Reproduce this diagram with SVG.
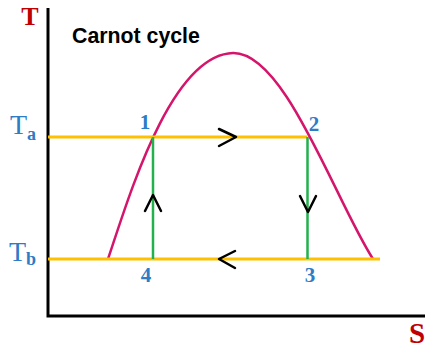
<svg xmlns="http://www.w3.org/2000/svg" width="425" height="349" viewBox="0 0 425 349">
<style>
.axis{stroke:#000;stroke-width:3;fill:none}
.iso{stroke:#ffc000;stroke-width:3;fill:none}
.adi{stroke:#22b14c;stroke-width:2.5;fill:none}
.dome{stroke:#d5156b;stroke-width:2.5;fill:none}
.chev{stroke:#000;stroke-width:2.5;fill:none;stroke-linecap:round;stroke-linejoin:round}
.ax{font-family:"Liberation Serif",serif;font-weight:bold;fill:#c00000}
.tl{font-family:"Liberation Serif",serif;fill:#2e7bc6}
.num{font-family:"Liberation Serif",serif;font-weight:bold;font-size:21px;fill:#2e7bc6;text-anchor:middle}
</style>
<rect width="425" height="349" fill="#fff"/>
<g id="axes">
<path class="axis" d="M48,8 V316 H425"/>
<text class="ax" x="30" y="25" font-size="26" text-anchor="middle">T</text>
<text class="ax" x="417" y="343" font-size="29" text-anchor="middle">S</text>
</g>
<text x="72" y="43" font-family="Liberation Sans,Arial,sans-serif" font-weight="bold" font-size="21.3" fill="#000">Carnot cycle</text>
<g id="dome"><path class="dome" d="M108,259 C128,200 170,55 233,53 C285,52 335,200 373,259"/></g>
<g id="connectors">
<line class="iso" x1="48" y1="137" x2="307" y2="137"/>
<line class="iso" x1="48" y1="259" x2="380" y2="259"/>
<line class="adi" x1="153" y1="137" x2="153" y2="259"/>
<line class="adi" x1="307.5" y1="137" x2="307.5" y2="259"/>
<polyline class="chev" points="219,129 236,137 219,146"/>
<polyline class="chev" points="235,251 219,259 235,268"/>
<polyline class="chev" points="145,211 153,195 161,211"/>
<polyline class="chev" points="300,196 308,212 316,196"/>
</g>
<g id="Ta"><text class="tl" x="10" y="134" font-size="28">T<tspan font-weight="bold" font-size="18" dy="6">a</tspan></text></g>
<g id="Tb"><text class="tl" x="9" y="261" font-size="28">T<tspan font-weight="bold" font-size="18" dy="4">b</tspan></text></g>
<g id="p1"><text class="num" x="145" y="129">1</text></g>
<g id="p2"><text class="num" x="314" y="131">2</text></g>
<g id="p3"><text class="num" x="310" y="282">3</text></g>
<g id="p4"><text class="num" x="146" y="282">4</text></g>
</svg>
